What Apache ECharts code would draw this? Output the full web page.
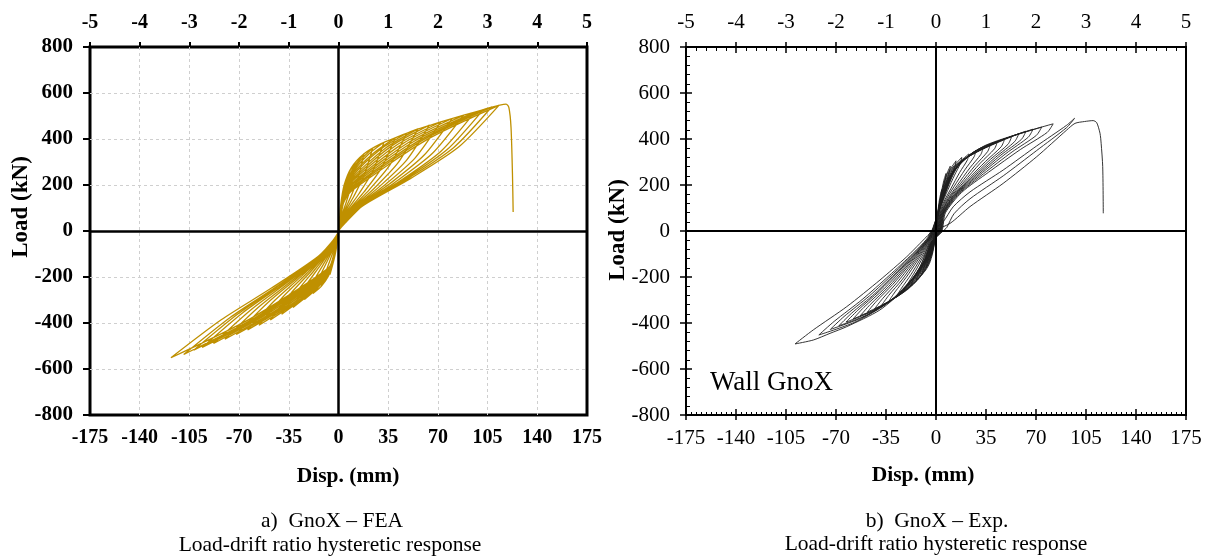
<!DOCTYPE html>
<html>
<head>
<meta charset="utf-8">
<script src="https://cdn.jsdelivr.net/npm/echarts@6/dist/echarts.min.js"></script>
<style>
  html, body { margin: 0; padding: 0; background: #fff; }
  #chart { width: 1205px; height: 556px; }
</style>
</head>
<body>
<div id="chart"></div>
<script>
// Axis ranges: displacement (mm), drift ratio (%), load (kN) as [min, max, step]
const dispRange = [-175, 175, 35];
const driftRange = [-5, 5, 1];
const loadRange = [-800, 800, 200];

// GnoX finite-element model: one array per displacement cycle,
// positive excursion then negative excursion, each back to the origin.
const feaCycles = [
  [[1.5,100],[4,185],[6,235],[4.5,157],[2.7,99],[0.9,47],[0,0],[-1,-55],[-3,-120],[-6,-190],[-4.2,-133],[-2.4,-86],[-0.7,-38],[0,0]],
  [[1.5,100],[4,185],[8,260],[12,295],[9,198],[5.4,124],[1.8,59],[0.5,18],[0,0],[-1,-55],[-3,-120],[-7,-195],[-12,-240],[-8.4,-168],[-4.8,-108],[-1.4,-48],[0,0]],
  [[1.5,100],[4,185],[10,270],[18,336],[13.5,225],[8.1,141],[2.7,67],[0.7,20],[0,0],[-1,-55],[-3,-120],[-7,-193],[-12,-240],[-18,-272],[-12.6,-190],[-7.2,-122],[-2.2,-54],[-0.5,-12],[0,0]],
  [[1.5,100],[4,185],[10,262],[17,318],[24,360],[18,241],[10.8,151],[3.6,72],[1,22],[0,0],[-1,-55],[-3,-118],[-7,-190],[-15,-249],[-24,-298],[-16.8,-209],[-9.6,-134],[-2.9,-60],[-0.7,-14],[0,0]],
  [[1.5,95],[4,180],[10,255],[21,333],[32,386],[24,259],[14.4,162],[4.8,77],[1.3,23],[0,0],[-1,-53],[-3,-116],[-7,-187],[-19,-268],[-32,-332],[-22.4,-232],[-12.8,-149],[-3.8,-66],[-0.9,-16],[0,0]],
  [[1.5,95],[4,178],[10,248],[25,340],[40,405],[30,271],[18,170],[6,81],[1.6,24],[0,0],[-1,-52],[-3,-114],[-7,-184],[-23,-283],[-40,-362],[-28,-253],[-16,-163],[-4.8,-72],[-1.1,-18],[0,0]],
  [[1.5,92],[4,172],[10,240],[29,352],[48,425],[36,285],[21.6,179],[7.2,85],[1.9,26],[0,0],[-1,-50],[-3,-112],[-7,-181],[-27,-297],[-48,-387],[-33.6,-271],[-19.2,-174],[-5.8,-77],[-1.3,-19],[0,0]],
  [[1.5,90],[4,168],[10,232],[33,360],[56,444],[42,297],[25.2,186],[8.4,89],[2.2,27],[0,0],[-1,-49],[-3,-110],[-7,-178],[-31,-309],[-56,-410],[-39.2,-287],[-22.4,-185],[-6.7,-82],[-1.4,-20],[0,0]],
  [[1.5,88],[4,162],[10,225],[37,368],[64,460],[48,308],[28.8,193],[9.6,92],[2.6,28],[0,0],[-1,-48],[-3,-108],[-7,-175],[-35,-319],[-64,-430],[-44.8,-301],[-25.6,-194],[-7.7,-86],[-1.5,-21],[0,0]],
  [[1.5,85],[4,158],[10,218],[41,374],[72,474],[54,318],[32.4,199],[10.8,95],[2.9,28],[0,0],[-1,-47],[-3,-106],[-7,-172],[-39,-329],[-72,-450],[-50.4,-315],[-28.8,-203],[-8.6,-90],[-1.6,-22],[0,0]],
  [[1.5,82],[4,152],[10,210],[45,379],[80,489],[60,328],[36,205],[12,98],[3.2,29],[0,0],[-1,-46],[-3,-104],[-7,-170],[-43,-340],[-80,-470],[-56,-329],[-32,-212],[-9.6,-94],[-1.7,-23],[0,0]],
  [[1.5,80],[4,148],[10,204],[49,384],[88,503],[66,337],[39.6,211],[13.2,101],[3.5,30],[0,0],[-1,-45],[-3,-102],[-7,-168],[-47,-349],[-88,-489],[-61.6,-342],[-35.2,-220],[-10.6,-98],[-1.8,-24],[0,0]],
  [[1.5,78],[4,142],[10,197],[53,389],[96,517],[72,346],[43.2,217],[14.4,103],[3.8,31],[0,0],[-1,-44],[-3,-100],[-7,-166],[-51,-358],[-96,-506],[-67.2,-354],[-38.4,-228],[-11.5,-101],[-1.9,-25],[0,0]],
  [[1.5,75],[4,138],[10,190],[56,391],[102,528],[76.5,354],[45.9,222],[15.3,106],[4.1,32],[0,0],[-1,-43],[-3,-98],[-7,-164],[-54,-364],[-102,-518],[-71.4,-363],[-40.8,-233],[-12.2,-104],[-2,-25],[0,0]],
  [[1.5,72],[4,132],[10,184],[59,394],[108,540],[81,362],[48.6,227],[16.2,108],[4.3,32],[0,0],[-1,-42],[-3,-96],[-7,-162],[-58,-374],[-109,-537],[-76.3,-376],[-43.6,-242],[-13.1,-107],[-2,-26],[0,0]],
  [[1.5,70],[4,128],[10,178],[62,396],[113,546],[84.8,366],[50.9,229],[17,109],[4.5,33],[0,0],[-1,-41],[-3,-94],[-7,-160],[-62,-381],[-118,-551],[-82.6,-386],[-47.2,-248],[-14.2,-110],[-2,-27],[0,0]]
];
// Final push of the model to peak load and strength loss
const feaFinal = [[1.5,110],[4,200],[9,275],[18,336],[30,380],[42,410],[54,440],[66,463],[78,485],[90,507],[102,528],[118,552],[120,536],[121.5,450],[122.5,250],[123,83]];

// GnoX test specimen: recorded cycles, same ordering as above,
// with the small residual displacement at each zero-load crossing
const expCycles = [
  [[1,70],[2.5,140],[4,180],[3,130],[1.5,75],[0.4,25],[0.2,0],[-0.5,-20],[-1.5,-60],[-2.8,-95],[-4,-110],[-3.4,-92],[-2,-55],[-0.8,-20],[-0.2,0]],
  [[1.3,75],[3.5,160],[5.5,220],[7,250],[6.7,230],[5,190],[3.2,138],[1.5,90],[0.6,43],[0.4,0],[-0.6,-25],[-1.6,-60],[-3,-100],[-5,-140],[-7,-160],[-6.1,-139],[-4.4,-106],[-2.8,-69],[-1.4,-35],[-0.6,-13],[-0.3,0]],
  [[1.5,85],[4.5,180],[7,240],[10,282],[9.5,259],[7.2,214],[4.5,155],[2.2,102],[0.8,48],[0.5,0],[-0.5,-24],[-1.3,-62],[-2.5,-100],[-4.5,-140],[-7.2,-170],[-10,-190],[-8.7,-165],[-6.3,-125],[-4,-82],[-2,-42],[-0.8,-15],[-0.4,0]],
  [[1.7,92],[5,183],[7.6,244],[14,305],[13.3,281],[10.1,232],[6.3,168],[3.1,110],[1.1,52],[0.7,0],[-0.6,-24],[-1.5,-65],[-3.1,-103],[-5.9,-151],[-9.8,-189],[-14,-215],[-12.2,-187],[-8.8,-142],[-5.6,-92],[-2.8,-47],[-1.1,-17],[-0.6,0]],
  [[1.9,96],[5.7,192],[9.2,256],[18,320],[17.1,294],[13,243],[8.1,176],[4,115],[1.4,54],[0.9,0],[-0.7,-26],[-2,-72],[-4,-115],[-7.6,-168],[-12.6,-211],[-18,-240],[-15.7,-209],[-11.3,-158],[-7.2,-103],[-3.6,-53],[-1.4,-19],[-0.7,0]],
  [[2.2,100],[6.5,201],[11.2,268],[23,335],[21.9,308],[16.6,255],[10.4,184],[5.1,121],[1.8,57],[1.2,0],[-0.9,-29],[-2.5,-80],[-5.1,-127],[-9.7,-186],[-16.1,-233],[-23,-265],[-20,-231],[-14.5,-175],[-9.2,-114],[-4.6,-58],[-1.8,-21],[-0.9,0]],
  [[2.4,105],[7.2,210],[13.2,280],[28,350],[26.6,322],[20.2,266],[12.6,193],[6.2,126],[2.2,60],[1.4,0],[-1.1,-32],[-3.1,-86],[-6.2,-138],[-11.8,-202],[-19.6,-253],[-28,-288],[-24.4,-251],[-17.6,-190],[-11.2,-124],[-5.6,-63],[-2.2,-23],[-1.1,0]],
  [[2.7,109],[8,217],[15.2,290],[33,362],[31.4,333],[23.8,275],[14.9,199],[7.3,130],[2.6,62],[1.7,0],[-1.3,-34],[-3.6,-92],[-7.3,-146],[-13.9,-214],[-23.1,-268],[-33,-305],[-28.7,-265],[-20.8,-201],[-13.2,-131],[-6.6,-67],[-2.6,-24],[-1.3,0]],
  [[2.9,113],[8.7,225],[17.2,300],[38,375],[36.1,345],[27.4,285],[17.1,206],[8.4,135],[3,64],[1.9,0],[-1.5,-35],[-4.2,-97],[-8.4,-155],[-16,-225],[-26.6,-283],[-38,-322],[-33.1,-280],[-23.9,-213],[-15.2,-138],[-7.6,-71],[-3,-26],[-1.5,0]],
  [[3.2,116],[9.5,233],[19.2,310],[43,388],[40.9,357],[31,295],[19.4,213],[9.5,140],[3.4,66],[2.2,0],[-1.7,-37],[-4.7,-101],[-9.5,-162],[-18.1,-237],[-30.1,-297],[-43,-338],[-37.4,-294],[-27.1,-223],[-17.2,-145],[-8.6,-74],[-3.4,-27],[-1.7,0]],
  [[3.4,119],[10.2,239],[21.2,318],[48,398],[45.6,366],[34.6,302],[21.6,219],[10.6,143],[3.8,68],[2.4,0],[-1.9,-39],[-5.3,-106],[-10.6,-169],[-20.2,-246],[-33.6,-310],[-48,-352],[-41.8,-306],[-30.2,-232],[-19.2,-151],[-9.6,-77],[-3.8,-28],[-1.9,0]],
  [[3.7,123],[11,246],[23.2,328],[53,410],[50.4,377],[38.2,312],[23.9,226],[11.7,148],[4.2,70],[2.7,0],[-2.1,-40],[-5.8,-110],[-11.7,-177],[-22.3,-258],[-37.1,-324],[-53,-368],[-46.1,-320],[-33.4,-243],[-21.2,-158],[-10.6,-81],[-4.2,-29],[-2.1,0]],
  [[3.9,127],[11.7,254],[25.2,338],[58,423],[55.1,389],[41.8,321],[26.1,233],[12.8,152],[4.6,72],[2.9,0],[-2.3,-42],[-6.4,-115],[-12.8,-183],[-24.4,-267],[-40.6,-336],[-58,-382],[-50.5,-332],[-36.5,-252],[-23.2,-164],[-11.6,-84],[-4.6,-31],[-2.3,0]],
  [[4.2,130],[12.5,260],[27.2,347],[63,434],[59.9,399],[45.4,330],[28.4,239],[13.9,156],[5,74],[3.2,0],[-2.5,-44],[-6.9,-119],[-13.9,-190],[-26.5,-277],[-44.1,-348],[-63,-396],[-54.8,-345],[-39.7,-261],[-25.2,-170],[-12.6,-87],[-5,-32],[-2.5,0]],
  [[4.4,133],[13.2,266],[29.2,354],[68,443],[64.6,408],[49,337],[30.6,244],[15,159],[5.4,75],[3.4,0],[-2.7,-45],[-7.5,-124],[-15,-198],[-28.6,-288],[-47.6,-363],[-68,-412],[-59.2,-358],[-42.8,-272],[-27.2,-177],[-13.6,-91],[-5.4,-33],[-2.7,0]],
  [[4.7,136],[14.1,271],[31.6,362],[74,452],[70.3,416],[53.3,344],[33.3,249],[16.3,163],[5.9,77],[3.7,0],[-3,-47],[-8.1,-128],[-16.3,-205],[-31.1,-300],[-51.8,-377],[-74,-428],[-64.4,-372],[-46.6,-282],[-29.6,-184],[-14.8,-94],[-5.9,-34],[-3,0]],
  [[5.1,140],[15.3,280],[34.8,373],[82,466],[77.9,429],[59,354],[36.9,256],[18,168],[6.6,79],[4.1,0],[-3.3,-50],[-9,-136],[-18,-217],[-34.4,-316],[-57.4,-398],[-82,-452],[-71.3,-393],[-51.7,-298],[-32.8,-194],[-16.4,-99],[-6.6,-36],[-3.3,0]],
  [[5,40],[12,105],[23.8,170],[47,265],[70.5,370],[91.5,460],[97,490],[91.5,450],[70.5,350],[47.1,240],[23.8,140],[12.6,75],[7.5,15],[5,0],[-4.2,-54],[-11.2,-155],[-20.5,-242],[-39.2,-343],[-62.5,-416],[-74.2,-445],[-85.9,-474],[-98.7,-491],[-85.9,-430],[-62.5,-329],[-39.2,-213],[-20.5,-112],[-11.2,-54],[-4.2,-10],[-2,0]]
];
// Last excursion of the specimen up to failure
const expFinal = [[9.8,33],[23.8,106],[47,207],[70.5,323],[91.5,439],[97.3,468],[104,476],[110,480],[112.5,471],[114.8,425],[115.6,381],[116.7,280],[117.1,77]];

// Texts
const axisTitles = ['Load (kN)', 'Disp. (mm)'];
const captionsA = ['a)  GnoX \u2013 FEA', 'Load-drift ratio hysteretic response'];
const captionsB = ['b)  GnoX \u2013 Exp.', 'Load-drift ratio hysteretic response'];
const wallLabel = 'Wall GnoX';

const SERIF = "'Liberation Serif', 'Times New Roman', serif";

const feaData = [[0, 0]].concat(...feaCycles, feaFinal);
const expData = [[0, 0]].concat(...expCycles, expFinal);

function labelStyle(bold, margin, size) {
  return {
    show: true, fontFamily: SERIF, fontSize: size, color: '#000',
    fontWeight: bold ? 'bold' : 'normal', margin: margin
  };
}

function valueAxis(range, extra) {
  return Object.assign({
    type: 'value', min: range[0], max: range[1], interval: range[2],
    axisLine: { show: false, onZero: false },
    splitLine: { show: false },
    axisTick: { show: false },
    minorTick: { show: false },
    axisLabel: { show: false }
  }, extra);
}

// light dashed grid, leaving the frame edges to the border
const dashed = { show: true, showMinLine: false, showMaxLine: false, lineStyle: { color: '#cfcfcf', width: 1, type: [3, 3] } };
const tickOut = (len, w) => ({ show: true, inside: false, length: len, lineStyle: { color: '#000', width: w } });
const tickIn = (len, w) => ({ show: true, inside: true, length: len, lineStyle: { color: '#000', width: w } });
const minorIn = (n, len) => ({ show: true, splitNumber: n, length: len, lineStyle: { color: '#000', width: 1 } });

const zeroLines = (w) => ({
  silent: true, symbol: 'none', animation: false,
  label: { show: false },
  lineStyle: { color: '#000', width: w, type: 'solid' },
  emphasis: { disabled: true },
  data: [{ xAxis: 0 }, { yAxis: 0 }]
});

function text(str, x, y, opts) {
  return {
    type: 'text', x: x, y: y, rotation: opts.rotation || 0, silent: true, z: 10,
    style: {
      text: str, fontFamily: SERIF, fontSize: opts.size,
      fontWeight: opts.bold ? 'bold' : 'normal', fill: '#000',
      align: opts.align || 'center', verticalAlign: 'middle'
    }
  };
}

const option = {
  animation: false,
  backgroundColor: '#fff',
  grid: [
    { left: 90, top: 47, width: 497, height: 368, show: true, borderColor: '#000', borderWidth: 3, backgroundColor: 'transparent' },
    { left: 686, top: 47, width: 500, height: 368, show: true, borderColor: '#000', borderWidth: 2, backgroundColor: 'transparent' }
  ],
  xAxis: [
    // FEA: displacement (bottom), drift ratio (top)
    valueAxis(dispRange, { gridIndex: 0, position: 'bottom', axisLabel: labelStyle(true, 13, 20), splitLine: dashed }),
    valueAxis(driftRange, { gridIndex: 0, position: 'top', axisLabel: labelStyle(true, 14, 20), axisTick: tickOut(5, 2) }),
    // Test: displacement (bottom) with crossing major ticks and inner minor ticks
    valueAxis(dispRange, { gridIndex: 1, position: 'bottom', axisLabel: labelStyle(false, 13, 21), axisTick: tickOut(5, 1.5) }),
    valueAxis(dispRange, { gridIndex: 1, position: 'bottom', axisTick: tickIn(6, 1.5), minorTick: minorIn(10, 3) }),
    valueAxis(driftRange, { gridIndex: 1, position: 'top', axisLabel: labelStyle(false, 14, 21), axisTick: tickOut(5, 1.5) }),
    valueAxis(driftRange, { gridIndex: 1, position: 'top', axisTick: tickIn(6, 1.5), minorTick: minorIn(5, 4) })
  ],
  yAxis: [
    valueAxis(loadRange, { gridIndex: 0, position: 'left', axisLabel: labelStyle(true, 17, 21), axisTick: tickOut(7, 2), splitLine: dashed }),
    valueAxis(loadRange, { gridIndex: 1, position: 'left', axisLabel: labelStyle(false, 16, 21), axisTick: tickOut(6, 1.5) }),
    valueAxis(loadRange, { gridIndex: 1, position: 'left', axisTick: tickIn(6, 1.5), minorTick: minorIn(5, 4) })
  ],
  series: [
    {
      name: 'FEA', type: 'line', xAxisIndex: 0, yAxisIndex: 0,
      data: feaData, showSymbol: false, symbol: 'none', smooth: 0.25,
      lineStyle: { color: '#BF9000', width: 1.3 },
      emphasis: { disabled: true },
      markLine: zeroLines(2.5)
    },
    {
      name: 'Exp', type: 'line', xAxisIndex: 2, yAxisIndex: 1,
      data: expData, showSymbol: false, symbol: 'none', smooth: 0.25,
      lineStyle: { color: '#1e1e1e', width: 0.9 },
      emphasis: { disabled: true },
      markLine: zeroLines(2)
    }
  ],
  graphic: [
    text(axisTitles[0], 21, 207, { bold: true, size: 23, rotation: Math.PI / 2 }),
    text(axisTitles[0], 618, 230, { bold: true, size: 23, rotation: Math.PI / 2 }),
    text(axisTitles[1], 348, 476, { bold: true, size: 21.5 }),
    text(axisTitles[1], 923, 475, { bold: true, size: 21.5 }),
    text(captionsA[0], 332, 521, { size: 21.5 }),
    text(captionsA[1], 330, 545, { size: 21.5 }),
    text(captionsB[0], 937, 521, { size: 21.5 }),
    text(captionsB[1], 936, 544, { size: 21.5 }),
    text(wallLabel, 710, 383, { size: 27, align: 'left' })
  ]
};

const chart = echarts.init(document.getElementById('chart'), null, { renderer: 'canvas' });
chart.setOption(option);
</script>
</body>
</html>
